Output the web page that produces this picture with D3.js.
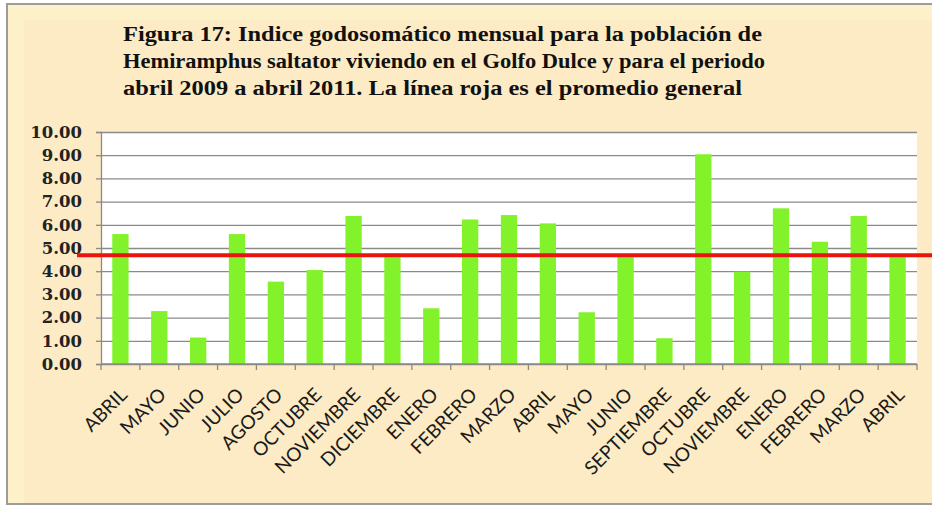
<!DOCTYPE html>
<html>
<head>
<meta charset="utf-8">
<script src="https://cdn.jsdelivr.net/npm/d3@7"></script>
<style>
  body { margin: 0; background: #fff; }
  svg { display: block; }
</style>
</head>
<body>
<svg width="932" height="506"></svg>
<script>
// months shown on the x axis (abril 2009 - abril 2011)
const months = ['ABRIL', 'MAYO', 'JUNIO', 'JULIO', 'AGOSTO', 'OCTUBRE', 'NOVIEMBRE', 'DICIEMBRE',
  'ENERO', 'FEBRERO', 'MARZO', 'ABRIL', 'MAYO', 'JUNIO', 'SEPTIEMBRE', 'OCTUBRE', 'NOVIEMBRE',
  'ENERO', 'FEBRERO', 'MARZO', 'ABRIL'];
// indice godosomatico per month
const igs = [5.60, 2.28, 1.14, 5.60, 3.55, 4.05, 6.38, 4.77, 2.40, 6.23, 6.42, 6.06, 2.23,
  4.63, 1.11, 9.04, 3.98, 6.71, 5.27, 6.38, 4.63];
const yTicks = [0, 1, 2, 3, 4, 5, 6, 7, 8, 9, 10];
const titleLines = [
  'Figura 17: Indice godosomático mensual para la población de',
  'Hemiramphus saltator viviendo en el Golfo Dulce y para el periodo',
  'abril 2009  a abril 2011. La línea roja es el promedio general'
];

const svg = d3.select('svg');

// frame
svg.append('rect')
  .attr('x', 7).attr('y', 4).attr('width', 940).attr('height', 500)
  .attr('fill', '#fdf1c9').attr('stroke', '#9c9c9c').attr('stroke-width', 2);
svg.append('rect')
  .attr('x', 24).attr('y', 20).attr('width', 920).attr('height', 483)
  .attr('fill', '#fcebc4');

// title
const titleW = [639, 642, 619];
svg.append('g').selectAll('text')
  .data(titleLines)
  .enter()
  .append('text')
  .attr('x', 123)
  .attr('y', (d, i) => 41 + i * 27)
  .attr('textLength', (d, i) => titleW[i])
  .attr('lengthAdjust', 'spacingAndGlyphs')
  .attr('font-family', '"Liberation Serif", serif')
  .attr('font-weight', 'bold')
  .attr('font-size', 20.5)
  .attr('fill', '#111')
  .text(d => d);

const pLeft = 101, pRight = 917, pTop = 132, pBottom = 364;

const x = d3.scaleBand()
  .domain(d3.range(months.length))
  .range([pLeft, pRight]);

const y = d3.scaleLinear()
  .domain([0, 10])
  .range([pBottom, pTop]);

// plot area
svg.append('rect')
  .attr('x', pLeft).attr('y', pTop)
  .attr('width', pRight - pLeft).attr('height', pBottom - pTop)
  .attr('fill', '#fff');

// gridlines
svg.append('g')
  .attr('transform', `translate(${pLeft},0)`)
  .call(d3.axisLeft(y).tickValues(yTicks).tickSize(-(pRight - pLeft)).tickFormat(''))
  .call(g => g.select('.domain').remove())
  .call(g => g.selectAll('line').attr('stroke', '#8a8a8a').attr('stroke-width', 1.3));

// bars
const bw = x.bandwidth() * 0.42;
svg.append('g').selectAll('rect')
  .data(igs)
  .enter()
  .append('rect')
  .attr('x', (d, i) => x(i) + (x.bandwidth() - bw) / 2)
  .attr('y', d => y(d))
  .attr('width', bw)
  .attr('height', d => y(0) - y(d))
  .attr('fill', '#82f22a');

// y axis
const yAxis = svg.append('g')
  .attr('transform', `translate(${pLeft},0)`)
  .call(d3.axisLeft(y).tickValues(yTicks).tickSize(5).tickPadding(14).tickFormat(d3.format('.2f')));
yAxis.select('.domain').attr('stroke', '#8a8a8a').attr('stroke-width', 1.3);
yAxis.selectAll('line').attr('stroke', '#8a8a8a').attr('stroke-width', 1.3);
yAxis.selectAll('text')
  .attr('font-family', '"DejaVu Serif", serif')
  .attr('font-weight', 'bold')
  .attr('font-size', 16.5)
  .attr('fill', '#222');

// x axis line + ticks at category boundaries
const xb = svg.append('g');
xb.append('line')
  .attr('x1', pLeft).attr('x2', pRight).attr('y1', pBottom).attr('y2', pBottom)
  .attr('stroke', '#8a8a8a').attr('stroke-width', 1.3);
xb.selectAll('.tk')
  .data(d3.range(months.length + 1))
  .enter()
  .append('line')
  .attr('x1', i => i < months.length ? x(i) : pRight)
  .attr('x2', i => i < months.length ? x(i) : pRight)
  .attr('y1', pBottom).attr('y2', pBottom + 6)
  .attr('stroke', '#8a8a8a').attr('stroke-width', 1.3);

// month labels
svg.append('g').selectAll('text')
  .data(months)
  .enter()
  .append('text')
  .attr('transform', (d, i) => `translate(${x(i) + x.bandwidth() / 2 + 8},396) rotate(-45)`)
  .attr('text-anchor', 'end')
  .attr('font-family', 'Lato, sans-serif')
  .attr('font-size', 19)
  .attr('fill', '#1a1a1a')
  .text(d => d);

// promedio general
const avg = d3.mean(igs);
svg.append('line')
  .attr('x1', 77).attr('x2', 932)
  .attr('y1', y(avg)).attr('y2', y(avg))
  .attr('stroke', '#e8150f')
  .attr('stroke-width', 4);
</script>
</body>
</html>
